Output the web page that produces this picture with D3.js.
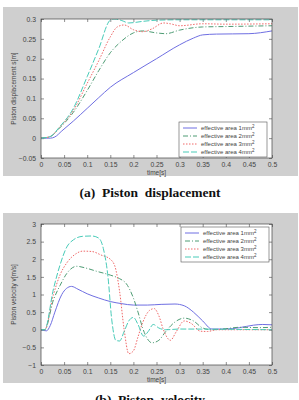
<!DOCTYPE html>
<html>
<head>
<meta charset="utf-8">
<script src="https://cdn.jsdelivr.net/npm/d3@7"></script>
<style>
  body { margin: 0; background: #fff; }
  text { font-family: "Liberation Sans", Arial, sans-serif; }
  text.caption { font-family: "Liberation Serif", "Times New Roman", serif; font-weight: bold; }
</style>
</head>
<body>
<div id="chart"></div>
<script>
// legend labels
var seriesNames = ['effective area 1mm', 'effective area 2mm', 'effective area 3mm', 'effective area 4mm'];

// x ticks shared by both plots
var xTicks = [0, 0.05, 0.1, 0.15, 0.2, 0.25, 0.3, 0.35, 0.4, 0.45, 0.5];
var dispTicks = [-0.05, 0, 0.05, 0.1, 0.15, 0.2, 0.25, 0.3];
var velTicks = [-1, -0.5, 0, 0.5, 1, 1.5, 2, 2.5, 3];

// (a) piston displacement [m]
var dispT1 = [0, 0.02, 0.03, 0.045, 0.07, 0.1, 0.125, 0.15, 0.2, 0.25, 0.3, 0.33, 0.35, 0.38, 0.45, 0.5];
var dispS1 = [0, 0, 0.003, 0.018, 0.043, 0.075, 0.102, 0.128, 0.165, 0.2, 0.235, 0.252, 0.26, 0.262, 0.263, 0.27];
var dispT2 = [0, 0.02, 0.04, 0.07, 0.1, 0.125, 0.15, 0.175, 0.2, 0.22, 0.25, 0.27, 0.3, 0.35, 0.4, 0.5];
var dispS2 = [0, 0.004, 0.025, 0.065, 0.12, 0.17, 0.215, 0.245, 0.265, 0.27, 0.265, 0.263, 0.272, 0.28, 0.281, 0.283];
var dispT3 = [0, 0.02, 0.04, 0.07, 0.1, 0.125, 0.15, 0.165, 0.18, 0.2, 0.22, 0.24, 0.265, 0.28, 0.3, 0.35, 0.4, 0.5];
var dispS3 = [0, 0.004, 0.027, 0.07, 0.138, 0.195, 0.255, 0.28, 0.285, 0.273, 0.268, 0.275, 0.29, 0.288, 0.283, 0.288, 0.287, 0.288];
var dispT4 = [0, 0.02, 0.04, 0.07, 0.1, 0.125, 0.15, 0.16, 0.175, 0.19, 0.22, 0.25, 0.3, 0.5];
var dispS4 = [0, 0.004, 0.028, 0.075, 0.155, 0.225, 0.297, 0.3, 0.296, 0.29, 0.294, 0.297, 0.298, 0.298];

// (b) piston velocity [m/s]
var velT1 = [0, 0.005, 0.012, 0.02, 0.03, 0.045, 0.055, 0.066, 0.08, 0.1, 0.125, 0.15, 0.175, 0.2, 0.23, 0.26, 0.29, 0.31, 0.33, 0.35, 0.37, 0.4, 0.43, 0.46, 0.48, 0.5];
var velV1 = [0, -0.02, -0.03, 0.12, 0.5, 1.0, 1.17, 1.23, 1.15, 1.02, 0.9, 0.8, 0.74, 0.7, 0.7, 0.72, 0.73, 0.68, 0.5, 0.25, 0.02, 0.02, 0.06, 0.13, 0.15, 0.14];
var velT2 = [0, 0.008, 0.027, 0.041, 0.056, 0.077, 0.1, 0.12, 0.15, 0.17, 0.185, 0.2, 0.21, 0.22, 0.23, 0.24, 0.255, 0.27, 0.29, 0.31, 0.33, 0.35, 0.37, 0.4, 0.43, 0.47, 0.5];
var velV2 = [0, 0, 0.85, 1.25, 1.6, 1.8, 1.74, 1.66, 1.55, 1.45, 1.3, 0.9, 0.5, 0.05, -0.25, -0.37, -0.3, -0.05, 0.22, 0.33, 0.25, 0.05, 0, 0.03, 0.07, 0.06, 0.07];
var velT3 = [0, 0.008, 0.027, 0.041, 0.056, 0.075, 0.09, 0.11, 0.13, 0.15, 0.16, 0.17, 0.18, 0.19, 0.2, 0.21, 0.22, 0.235, 0.245, 0.255, 0.265, 0.28, 0.293, 0.31, 0.325, 0.345, 0.36, 0.38, 0.5];
var velV3 = [0, 0, 1.0, 1.55, 1.9, 2.15, 2.23, 2.22, 2.12, 2.0, 1.8, 1.1, 0.0, -0.68, -0.6, -0.2, 0.2, 0.55, 0.6, 0.4, 0.0, -0.3, -0.05, 0.25, 0.18, -0.04, -0.05, 0, 0];
var velT4 = [0, 0.008, 0.027, 0.041, 0.056, 0.07, 0.09, 0.11, 0.125, 0.135, 0.145, 0.153, 0.162, 0.17, 0.18, 0.19, 0.2, 0.21, 0.222, 0.232, 0.243, 0.255, 0.27, 0.3, 0.5];
var velV4 = [0, 0, 1.16, 1.83, 2.35, 2.55, 2.65, 2.66, 2.6, 2.3, 1.5, 0.3, -0.3, -0.32, -0.05, 0.25, 0.35, 0.15, -0.18, -0.05, 0.15, 0.05, 0, 0.02, 0];

var colors = ['#6f6fe2', '#4e9c74', '#f06868', '#48cbb8'];
var dashes = [null, '5,2,1,2', '1.5,1.5', '6,2'];

var svg = d3.select('#chart').append('svg')
    .attr('width', 299)
    .attr('height', 400);

function zip(ts, vs) {
    return ts.map((t, i) => ({t: t, v: vs[i]}));
}

function drawChart(cfg) {
    // gray figure panel
    svg.append('rect')
        .attr('x', 3).attr('y', cfg.panelTop)
        .attr('width', 295).attr('height', cfg.panelH)
        .attr('fill', '#cfcfcf');

    var g = svg.append('g')
        .attr('transform', `translate(${cfg.left}, ${cfg.top})`);
    var w = cfg.width, h = cfg.height;

    var x = d3.scaleLinear().domain([0, 0.5]).range([0, w]);
    var y = d3.scaleLinear().domain(cfg.yDomain).range([h, 0]);

    g.append('rect').attr('width', w).attr('height', h).attr('fill', '#fff');

    // ticks inside the box on all four sides (matlab style)
    var ax = [
        {a: d3.axisBottom(x), tr: `translate(0,${h})`, lab: true},
        {a: d3.axisTop(x), tr: 'translate(0,0)', lab: false},
    ];
    ax.forEach((o) => {
        var axG = g.append('g').attr('transform', o.tr)
            .call(o.a.tickValues(xTicks).tickSizeInner(-3).tickSizeOuter(0).tickPadding(4)
                .tickFormat(o.lab ? d3.format('') : ''));
        axG.select('.domain').remove();
        axG.selectAll('line').attr('stroke', '#444').attr('stroke-width', 0.6);
        axG.selectAll('text').attr('font-size', 6.8).attr('fill', '#444');
    });
    var ay = [
        {a: d3.axisLeft(y), tr: 'translate(0,0)', lab: true},
        {a: d3.axisRight(y), tr: `translate(${w},0)`, lab: false},
    ];
    ay.forEach((o) => {
        var axG = g.append('g').attr('transform', o.tr)
            .call(o.a.tickValues(cfg.yTicks).tickSizeInner(-3).tickSizeOuter(0).tickPadding(5)
                .tickFormat(o.lab ? d3.format('') : ''));
        axG.select('.domain').remove();
        axG.selectAll('line').attr('stroke', '#444').attr('stroke-width', 0.6);
        axG.selectAll('text').attr('font-size', 6.8).attr('fill', '#444');
    });

    // clip
    var clipId = 'clip-' + cfg.id;
    svg.append('defs').append('clipPath').attr('id', clipId)
        .append('rect').attr('width', w).attr('height', h);

    var line = d3.line()
        .x((d) => x(d.t))
        .y((d) => y(d.v))
        .curve(d3.curveMonotoneX);

    var lines = g.append('g').attr('clip-path', `url(#${clipId})`);
    cfg.series.forEach((s, i) => {
        lines.append('path')
            .attr('d', line(s))
            .attr('fill', 'none')
            .attr('stroke', colors[i])
            .attr('stroke-width', 1)
            .attr('stroke-dasharray', dashes[i]);
    });

    // box
    g.append('rect').attr('width', w).attr('height', h)
        .attr('fill', 'none').attr('stroke', '#444').attr('stroke-width', 0.7);

    // axis titles
    g.append('text')
        .attr('x', w / 2).attr('y', h + 17)
        .attr('text-anchor', 'middle')
        .attr('font-size', 6.5).attr('fill', '#444')
        .text('time[s]');
    g.append('text')
        .attr('transform', `translate(${-25}, ${h / 2}) rotate(-90)`)
        .attr('text-anchor', 'middle')
        .attr('font-size', 6.5).attr('fill', '#444')
        .text(cfg.yLabel);

    // legend
    var lg = g.append('g').attr('transform', `translate(${cfg.legX}, ${cfg.legY})`);
    lg.append('rect').attr('width', 88).attr('height', 35)
        .attr('fill', '#fff').attr('stroke', '#555').attr('stroke-width', 0.6);
    seriesNames.forEach((name, i) => {
        var yy = 6 + i * 8;
        lg.append('line')
            .attr('x1', 4).attr('x2', 18).attr('y1', yy).attr('y2', yy)
            .attr('stroke', colors[i]).attr('stroke-width', 1)
            .attr('stroke-dasharray', dashes[i]);
        var t = lg.append('text')
            .attr('x', 22).attr('y', yy + 2.2)
            .attr('font-size', 6).attr('fill', '#444');
        t.append('tspan').text(name);
        t.append('tspan').attr('font-size', 4.5).attr('dy', -2.5).text('2');
    });

    // caption
    svg.append('text')
        .attr('class', 'caption')
        .attr('x', 150).attr('y', cfg.capY)
        .attr('text-anchor', 'middle')
        .attr('font-size', 13.5)
        .attr('fill', '#111')
        .attr('xml:space', 'preserve')
        .text(cfg.caption);
}

drawChart({
    id: 'a', panelTop: 7, panelH: 169,
    left: 41, top: 19, width: 231, height: 139,
    yDomain: [-0.05, 0.3], yTicks: dispTicks,
    yLabel: 'Piston displacement s[m]',
    series: [zip(dispT1, dispS1), zip(dispT2, dispS2), zip(dispT3, dispS3), zip(dispT4, dispS4)],
    legX: 138, legY: 103,
    caption: '(a)  Piston  displacement', capY: 197
});

drawChart({
    id: 'b', panelTop: 213, panelH: 170,
    left: 41, top: 224, width: 231, height: 141,
    yDomain: [-1, 3], yTicks: velTicks,
    yLabel: 'Piston velocity v[m/s]',
    series: [zip(velT1, velV1), zip(velT2, velV2), zip(velT3, velV3), zip(velT4, velV4)],
    legX: 140, legY: 3,
    caption: '(b)  Piston  velocity', capY: 404
});
</script>
</body>
</html>
